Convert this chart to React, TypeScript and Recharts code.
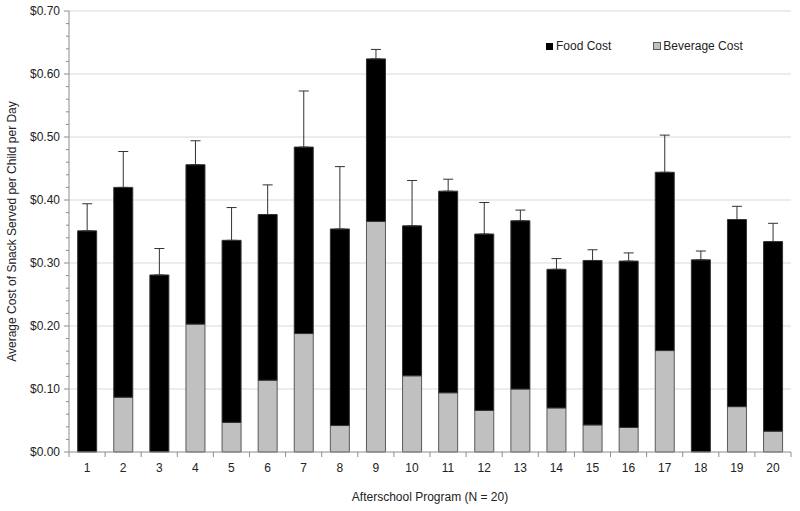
import React from 'react';
import {
  BarChart,
  Bar,
  XAxis,
  YAxis,
  CartesianGrid,
  ErrorBar,
  Legend,
} from 'recharts';

const programs = ['1', '2', '3', '4', '5', '6', '7', '8', '9', '10', '11', '12', '13', '14', '15', '16', '17', '18', '19', '20'];
const beverageCost = [0, 0.087, 0, 0.203, 0.047, 0.114, 0.188, 0.042, 0.366, 0.121, 0.094, 0.066, 0.1, 0.07, 0.043, 0.039, 0.161, 0, 0.072, 0.033];
const foodCost = [0.351, 0.333, 0.281, 0.253, 0.289, 0.263, 0.296, 0.312, 0.258, 0.238, 0.32, 0.28, 0.267, 0.22, 0.261, 0.264, 0.283, 0.305, 0.297, 0.301];
const costSd = [0.043, 0.057, 0.042, 0.038, 0.052, 0.047, 0.089, 0.099, 0.015, 0.072, 0.019, 0.05, 0.017, 0.017, 0.017, 0.013, 0.059, 0.014, 0.021, 0.029];
const yMax = 0.7;
const majorTicks = [0.1, 0.2, 0.3, 0.4, 0.5, 0.6, 0.7];
const allTicks = Array.from({ length: 36 }, (_, i) => Math.round(i * 2) / 100);

const data = programs.map((p, i) => ({
  program: p,
  beverage: beverageCost[i],
  food: foodCost[i],
  sd: [0, costSd[i]],
}));

const FONT = 'Liberation Sans, Arial, sans-serif';

const YTick = (props: any) => {
  const { x, y, payload } = props;
  const v = payload.value;
  const isMajor = Math.abs(v * 10 - Math.round(v * 10)) < 1e-6;
  return (
    <g>
      <line x1={x - (isMajor ? 5 : 3)} x2={x} y1={y} y2={y} stroke="#8c8c8c" />
      {isMajor && (
        <text x={x - 9} y={y} dy={4} textAnchor="end" fontSize={12} fill="#222" fontFamily={FONT}>
          {`$${v.toFixed(2)}`}
        </text>
      )}
    </g>
  );
};

const XTick = (props: any) => {
  const { x, y, payload, index, visibleTicksCount } = props;
  const half = payload.offset || 0;
  return (
    <g>
      <line x1={x - half} x2={x - half} y1={y} y2={y + 5} stroke="#8c8c8c" />
      {index === visibleTicksCount - 1 && (
        <line x1={x + half} x2={x + half} y1={y} y2={y + 5} stroke="#8c8c8c" />
      )}
      <text x={x} y={y} dy={20} textAnchor="middle" fontSize={12} fill="#222" fontFamily={FONT}>
        {payload.value}
      </text>
    </g>
  );
};

const renderLegend = () => (
  <div style={{ display: 'flex', fontFamily: FONT, fontSize: 12, color: '#222' }}>
    <div style={{ display: 'flex', alignItems: 'center', marginRight: 42 }}>
      <span style={{ width: 7, height: 7, background: '#000', marginRight: 3, display: 'inline-block' }} />
      Food Cost
    </div>
    <div style={{ display: 'flex', alignItems: 'center' }}>
      <span style={{ width: 6, height: 6, background: '#c0c0c0', border: '1px solid #595959', marginRight: 2, display: 'inline-block' }} />
      Beverage Cost
    </div>
  </div>
);

export default function App() {
  return (
    <div style={{ position: 'absolute', left: 0, top: 0, width: 800, height: 511, background: '#fff' }}>
      <BarChart
        width={800}
        height={511}
        data={data}
        margin={{ top: 11, right: 9, bottom: 0, left: 0 }}
        barCategoryGap="24%"
      >
        <CartesianGrid
          vertical={false}
          stroke="#d9d9d9"
          horizontalCoordinatesGenerator={({ offset }: any) =>
            majorTicks.map((v) => offset.top + offset.height * (1 - v / yMax))
          }
        />
        <XAxis
          dataKey="program"
          height={59}
          tickSize={0}
          tickMargin={0}
          tickLine={false}
          axisLine={{ stroke: '#8c8c8c' }}
          tick={<XTick />}
          interval={0}
          label={{ value: 'Afterschool Program (N = 20)', position: 'insideBottom', offset: 10, fontSize: 12, fill: '#222', fontFamily: FONT }}
        />
        <YAxis
          width={69}
          domain={[0, yMax]}
          ticks={allTicks}
          interval={0}
          tickSize={0}
          tickMargin={0}
          tickLine={false}
          axisLine={{ stroke: '#8c8c8c' }}
          tick={<YTick />}
          label={{ value: 'Average Cost of Snack Served per Child per Day', angle: -90, position: 'insideLeft', offset: 0, dx: 12, fontSize: 12, fill: '#222', fontFamily: FONT, style: { textAnchor: 'middle' } }}
        />
        <Legend
          layout="vertical"
          align="center"
          verticalAlign="middle"
          content={renderLegend}
          wrapperStyle={{ top: 39, left: 546, width: 230 }}
        />
        <Bar dataKey="beverage" stackId="a" fill="#c0c0c0" stroke="#595959" strokeWidth={1} isAnimationActive={false} />
        <Bar dataKey="food" stackId="a" fill="#000" stroke="#333" strokeWidth={1} isAnimationActive={false}>
          <ErrorBar dataKey="sd" direction="y" width={5} stroke="#333" strokeWidth={1} />
        </Bar>
      </BarChart>
    </div>
  );
}
